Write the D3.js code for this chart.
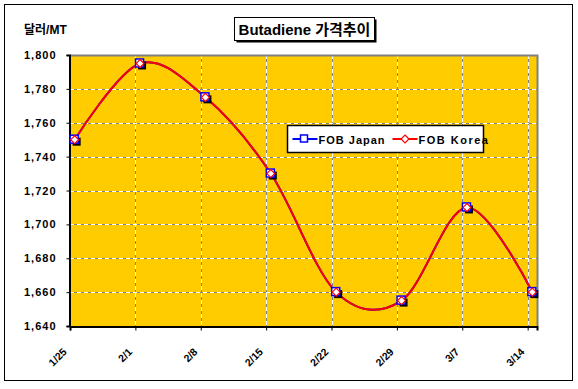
<!DOCTYPE html>
<html>
<head>
<meta charset="utf-8">
<script src="https://cdn.jsdelivr.net/npm/d3@7"></script>
<style>
    body { margin: 0; background: #fff; }
    text { font-family: "Liberation Sans", Arial, "Noto Sans CJK KR", sans-serif; font-weight: bold; }
</style>
</head>
<body>
<div id="chart"></div>
<script>
// data
var dates = ["1/25", "2/1", "2/8", "2/15", "2/22", "2/29", "3/7", "3/14"];
var dayOffsets = [0, 7, 14, 21, 28, 35, 42, 49];
var fobJapan = [1750, 1795, 1775, 1730, 1660, 1655, 1710, 1660];
var fobKorea = [1750, 1795, 1775, 1730, 1660, 1655, 1710, 1660];
var yTicks = [1640, 1660, 1680, 1700, 1720, 1740, 1760, 1780, 1800];

var W = 578, H = 389;
var plot = { left: 70, top: 55, right: 537, bottom: 326 };

var svg = d3.select("#chart").append("svg")
    .attr("width", W)
    .attr("height", H);

// outer frame
svg.append("rect")
    .attr("x", 4.5).attr("y", 4.5)
    .attr("width", 568).attr("height", 376)
    .attr("fill", "#fff")
    .attr("stroke", "#000")
    .attr("stroke-width", 1);

var x = d3.scaleLinear().domain([0, 50]).range([plot.left, plot.right]);
var y = d3.scaleLinear().domain([1640, 1800]).range([plot.bottom, plot.top]);

// plot background
svg.append("rect")
    .attr("x", plot.left).attr("y", plot.top)
    .attr("width", plot.right - plot.left)
    .attr("height", plot.bottom - plot.top)
    .attr("fill", "#ffcc00");

// grid lines: gray underneath, white dashes on top
var hGrid = yTicks.slice(1, -1);
var vGrid = dayOffsets.slice(1);
function gridLines(cls, color, dash) {
    var g = svg.append("g").attr("class", cls);
    g.selectAll("line.h").data(hGrid).enter().append("line")
        .attr("x1", plot.left).attr("x2", plot.right)
        .attr("y1", function (d) { return Math.round(y(d)) + 0.5; })
        .attr("y2", function (d) { return Math.round(y(d)) + 0.5; })
        .attr("stroke", color).attr("stroke-dasharray", dash);
    g.selectAll("line.v").data(vGrid).enter().append("line")
        .attr("y1", plot.top).attr("y2", plot.bottom)
        .attr("x1", function (d) { return Math.round(x(d)) + 0.5; })
        .attr("x2", function (d) { return Math.round(x(d)) + 0.5; })
        .attr("stroke", color).attr("stroke-dasharray", dash);
}
gridLines("grid-gray", "#808080", null);
gridLines("grid-white", "#ffffff", "4,3");

// plot border: top/right gray, left/bottom black
svg.append("path")
    .attr("d", "M" + (plot.left) + "," + (plot.top + 0.5) + "H" + (plot.right + 0.5) + "V" + plot.bottom)
    .attr("fill", "none").attr("stroke", "#808080").attr("stroke-width", 2);

// y axis
var yAxis = d3.axisLeft(y).tickValues(yTicks).tickSize(3).tickFormat(d3.format(","));
var yG = svg.append("g")
    .attr("transform", "translate(" + (plot.left - 0.5) + ",0)")
    .call(yAxis);
yG.select(".domain").attr("stroke", "#000").attr("stroke-width", 2);
yG.selectAll(".tick line").attr("stroke", "#000");
yG.selectAll(".tick text")
    .attr("x", -13)
    .attr("font-size", 11)
    .attr("letter-spacing", 1)
    .attr("fill", "#000");

// x axis
var xAxis = d3.axisBottom(x).tickValues(dayOffsets).tickSize(4)
    .tickFormat(function (d, i) { return dates[i]; });
var xG = svg.append("g")
    .attr("transform", "translate(0," + (plot.bottom + 0.5) + ")")
    .call(xAxis);
xG.select(".domain").attr("stroke", "#000").attr("stroke-width", 2);
xG.selectAll(".tick line").attr("stroke", "#000");
xG.selectAll(".tick text")
    .attr("font-size", 10.5)
    .attr("fill", "#000")
    .attr("text-anchor", "end")
    .attr("y", 0)
    .attr("dy", 0)
    .attr("transform", "translate(-3,26) rotate(-45)");

// series line (Excel style smoothing)
var line = d3.line()
    .x(function (d, i) { return x(dayOffsets[i] + 0.5); })
    .y(function (d) { return y(d); })
    .curve(d3.curveCardinal.tension(0));

svg.append("path").datum(fobJapan)
    .attr("d", line)
    .attr("fill", "none").attr("stroke", "#0000ff").attr("stroke-width", 2);
svg.append("path").datum(fobKorea)
    .attr("d", line)
    .attr("fill", "none").attr("stroke", "#ff0000").attr("stroke-width", 2);

// markers
var mk = svg.append("g");
mk.selectAll("rect.shadow").data(fobJapan).enter().append("rect")
    .attr("x", function (d, i) { return x(dayOffsets[i] + 0.5) - 2; })
    .attr("y", function (d) { return y(d) - 2; })
    .attr("width", 8).attr("height", 8)
    .attr("fill", "#000");
mk.selectAll("rect.jp").data(fobJapan).enter().append("rect")
    .attr("x", function (d, i) { return x(dayOffsets[i] + 0.5) - 4.5; })
    .attr("y", function (d) { return y(d) - 4.5; })
    .attr("width", 8).attr("height", 8)
    .attr("fill", "#fff").attr("stroke", "#0000ff").attr("stroke-width", 1.5);
var diamond = d3.symbol().type(d3.symbolDiamond2).size(40);
mk.selectAll("path.kr").data(fobKorea).enter().append("path")
    .attr("d", diamond)
    .attr("transform", function (d, i) { return "translate(" + x(dayOffsets[i] + 0.5) + "," + y(d) + ")"; })
    .attr("fill", "#fff").attr("stroke", "#ff0000").attr("stroke-width", 1.2);

// legend
var lg = svg.append("g").attr("transform", "translate(287.5,125.5)");
lg.append("rect").attr("width", 196).attr("height", 27)
    .attr("fill", "#fff").attr("stroke", "#000").attr("stroke-width", 1.5);
lg.append("line").attr("x1", 5).attr("x2", 30).attr("y1", 13.5).attr("y2", 13.5)
    .attr("stroke", "#0000ff").attr("stroke-width", 2);
lg.append("rect").attr("x", 13).attr("y", 9.5).attr("width", 7).attr("height", 7)
    .attr("fill", "#fff").attr("stroke", "#0000ff").attr("stroke-width", 1.5);
lg.append("text").attr("x", 31).attr("y", 18).attr("font-size", 11)
    .attr("letter-spacing", 1).text("FOB Japan");
lg.append("line").attr("x1", 105).attr("x2", 130).attr("y1", 13.5).attr("y2", 13.5)
    .attr("stroke", "#ff0000").attr("stroke-width", 2);
lg.append("path").attr("d", diamond)
    .attr("transform", "translate(117.5,13.5)")
    .attr("fill", "#fff").attr("stroke", "#ff0000").attr("stroke-width", 1.2);
lg.append("text").attr("x", 131).attr("y", 18).attr("font-size", 11)
    .attr("letter-spacing", 1.5).text("FOB Korea");

// title box
var tg = svg.append("g").attr("transform", "translate(234.5,17.5)");
tg.append("rect").attr("x", 2).attr("y", 2).attr("width", 140).attr("height", 23).attr("fill", "#000");
tg.append("rect").attr("width", 140).attr("height", 23)
    .attr("fill", "#fff").attr("stroke", "#000").attr("stroke-width", 1);
tg.append("text").attr("x", 70).attr("y", 17).attr("text-anchor", "middle")
    .attr("font-size", 15).text("Butadiene 가격추이");

// y unit label
svg.append("text").attr("x", 24).attr("y", 34).attr("font-size", 12)
    .text("달러/MT");
</script>
</body>
</html>
